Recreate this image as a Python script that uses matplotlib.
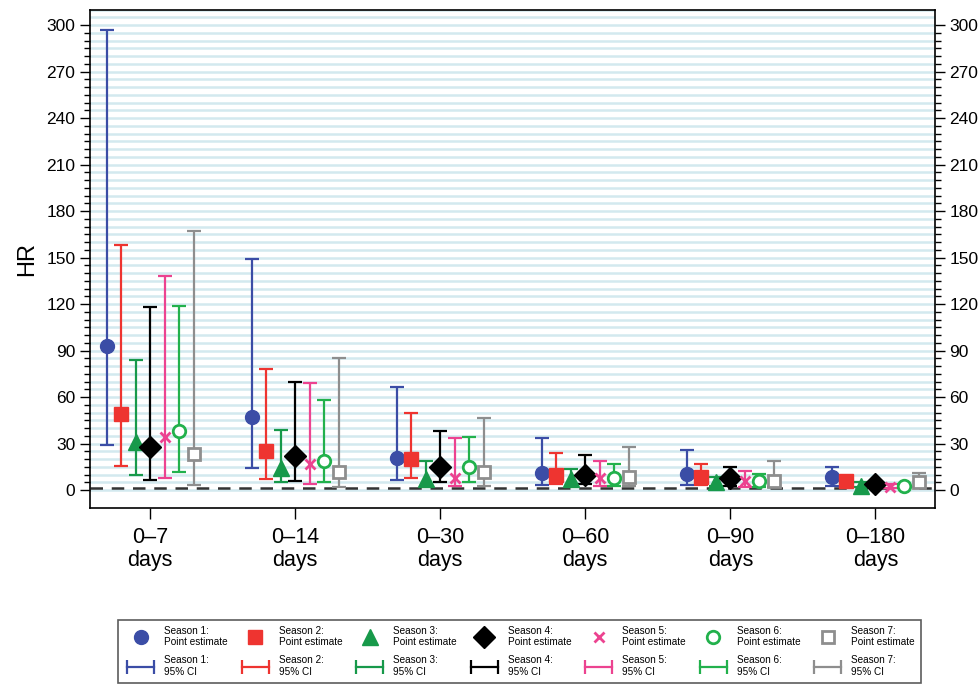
import numpy as np
import matplotlib
matplotlib.use('Agg')
import matplotlib.pyplot as plt
from matplotlib import font_manager as fm
from matplotlib.lines import Line2D
from matplotlib.legend_handler import HandlerLine2D

# keep the regular Liberation Sans, not the Narrow cut
fm.fontManager.ttflist = [f for f in fm.fontManager.ttflist if 'Narrow' not in f.fname]
plt.rcParams['font.family'] = ['Liberation Sans', 'DejaVu Sans']

# categories and seasons
periods = ['0\u20137\ndays', '0\u201314\ndays', '0\u201330\ndays',
           '0\u201360\ndays', '0\u201390\ndays', '0\u2013180\ndays']
seasons = ['Season 1', 'Season 2', 'Season 3', 'Season 4',
           'Season 5', 'Season 6', 'Season 7']

# point estimates (rows = seasons, cols = periods)
hr_est = [
    [93, 47, 20.7, 11, 10.3, 8.4],
    [49, 25, 20, 9.7, 8.5, 6],
    [31, 14, 7, 7, 5, 2.8],
    [28, 22, 14.6, 10, 7.6, 3.8],
    [34, 17, 8, 8, 6, 2],
    [38, 19, 14.7, 8, 6, 2.6],
    [23, 11.5, 11.6, 8.5, 6, 5],
]
ci_low = [
    [29, 14, 6.4, 3, 3, 2.7],
    [15.5, 7, 8, 4, 3, 3.5],
    [10, 5, 2.6, 2.6, 2.7, 2],
    [6.5, 6, 5, 4, 2.7, 2],
    [8, 4, 2.6, 2.6, 2, 1.3],
    [11.6, 5, 5, 2.6, 2, 1.5],
    [3, 2, 2.7, 2.7, 2, 2],
]
ci_high = [
    [297, 149, 66.5, 33.6, 26, 14.7],
    [158, 78, 50, 24, 17, 7.5],
    [84, 39, 19, 13.6, 8.4, 5],
    [118, 70, 38, 22.6, 15, 5.2],
    [138, 69, 33.6, 19, 12.3, 4],
    [119, 58, 34, 17, 10.4, 4],
    [167, 85, 46.5, 28, 19, 11],
]

colors = ['#3b4da6', '#ee3430', '#17994a', '#000000', '#ec4390', '#22b14c', '#8e8e8e']
markers = ['o', 's', '^', 'D', 'x', 'o', 's']
filled = [True, True, True, True, True, False, False]
msizes = [10, 10, 11, 11, 7, 9, 9]

fig = plt.figure(figsize=(9.8, 6.91), dpi=100)
ax = fig.add_axes([0.0918, 0.2648, 0.8622, 0.7207])

# striped background
for yy in np.arange(0, 311, 5):
    ax.axhline(yy, color='#d3e9ef', lw=1.8, zorder=0)

x = np.arange(len(periods))
offsets = (np.arange(len(seasons)) - 3) * 0.1

pt_handles = []
ci_handles = []
for i, s in enumerate(seasons):
    xi = x + offsets[i]
    est = np.array(hr_est[i])
    lo = est - np.array(ci_low[i])
    hi = np.array(ci_high[i]) - est
    ax.errorbar(xi, est, yerr=[lo, hi], fmt='none', ecolor=colors[i],
                elinewidth=1.6, capsize=5, capthick=1.6, zorder=3)
    if markers[i] == 'x':
        kw = dict(marker='x', color=colors[i], markersize=msizes[i], markeredgewidth=2)
    elif filled[i]:
        kw = dict(marker=markers[i], color=colors[i], markersize=msizes[i])
    else:
        kw = dict(marker=markers[i], markerfacecolor='white', markeredgecolor=colors[i],
                  markersize=msizes[i], markeredgewidth=2)
    ax.plot(xi, est, linestyle='none', zorder=4, **kw)
    pt_handles.append(Line2D([], [], linestyle='none', **kw))
    ci_handles.append(Line2D([], [], color=colors[i], lw=1.6, marker='|',
                             markersize=10, markeredgewidth=1.6))

ax.axhline(1, color='#333333', lw=1.8, ls=(0, (5, 3.5)), zorder=2)

ax.set_xlim(-0.414, 5.41)
ax.set_ylim(-11.6, 309.7)
ax.set_xticks(x)
ax.set_xticklabels(periods, fontsize=15.5, linespacing=1.1)
yt = np.arange(0, 301, 30)
ax.set_yticks(yt)
ax.set_yticks(np.arange(0, 301, 5), minor=True)
ax.tick_params(axis='y', which='major', length=7, width=1, labelsize=12.5,
               right=True, labelright=True)
ax.tick_params(axis='y', which='minor', length=4, width=1, right=True)
ax.tick_params(axis='x', length=8, width=1, pad=6)
ax.set_ylabel('HR', fontsize=17, labelpad=6)
for sp in ax.spines.values():
    sp.set_linewidth(1.2)

handles = []
labels = []
for i, s in enumerate(seasons):
    handles += [pt_handles[i], ci_handles[i]]
    labels += [f'{s}:\nPoint estimate', f'{s}:\n95% CI']

hmap = {h: HandlerLine2D(numpoints=2) for h in ci_handles}
leg = fig.legend(handles, labels, ncol=7, loc='lower left',
                 bbox_to_anchor=(113 / 980, 3 / 691, 813 / 980, 77 / 691),
                 mode='expand', fontsize=7.2, frameon=True, fancybox=False,
                 edgecolor='#333333', handlelength=3.3, handletextpad=0.7,
                 columnspacing=0.5, labelspacing=0.8, borderpad=0.6,
                 handler_map=hmap, numpoints=1)
leg.get_frame().set_linewidth(1.2)

fig.savefig('out.png', dpi=100)
